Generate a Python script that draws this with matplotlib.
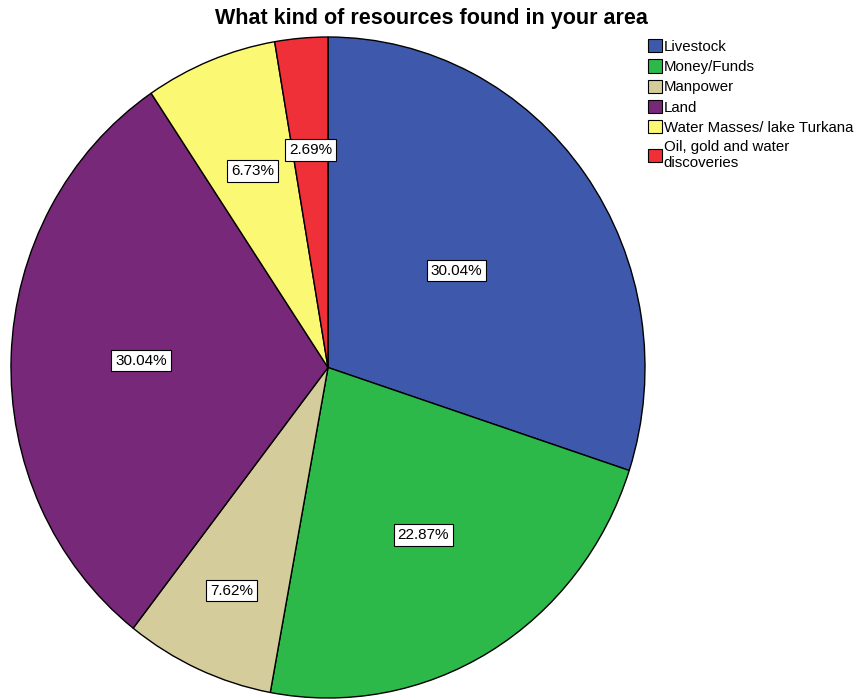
import numpy as np
import matplotlib
matplotlib.use("Agg")
import matplotlib.pyplot as plt
from matplotlib.patches import Patch

plt.rcParams["font.family"] = ["Liberation Sans", "DejaVu Sans"]

# datos
categorias = ["Livestock", "Money/Funds", "Manpower", "Land",
              "Water Masses/ lake Turkana", "Oil, gold and water\ndiscoveries"]
porcentajes = [30.04, 22.87, 7.62, 30.04, 6.73, 2.69]
colores = ["#3E58AC", "#2DB84A", "#D4CC9A", "#782878", "#FBF873", "#EF3038"]
# distancia relativa de cada etiqueta al centro
dist_etiqueta = [0.50, 0.59, 0.74, 0.59, 0.64, 0.66]

fig = plt.figure(figsize=(8.56, 7.0), dpi=100)
ax = fig.add_axes([11 / 856, 2 / 700, 634 / 856, 661 / 700])

wedges, _ = ax.pie(porcentajes, colors=colores, startangle=90, counterclock=False,
                   wedgeprops=dict(edgecolor="black", linewidth=1.0))
ax.set_aspect("auto")
ax.set_xlim(-1, 1)
ax.set_ylim(-1, 1)

for w, p, d in zip(wedges, porcentajes, dist_etiqueta):
    ang = np.deg2rad((w.theta1 + w.theta2) / 2)
    ax.text(d * np.cos(ang), d * np.sin(ang), f"{p:.2f}%", ha="center", va="center",
            fontsize=11,
            bbox=dict(boxstyle="square,pad=0.25", facecolor="white",
                      edgecolor="black", linewidth=0.8))

fig.suptitle("What kind of resources found in your area", x=431 / 856, y=0.988,
             fontsize=15.5, fontweight="bold")

handles = [Patch(facecolor=c, edgecolor="black", linewidth=0.8) for c in colores]
fig.legend(handles, categorias, loc="upper left",
           bbox_to_anchor=(648 / 856, 1 - 39 / 700), frameon=False,
           fontsize=10.8, handlelength=0.9, handleheight=1.0,
           handletextpad=0.15, labelspacing=0.36, borderpad=0,
           borderaxespad=0)

fig.savefig("out.png", dpi=100)
